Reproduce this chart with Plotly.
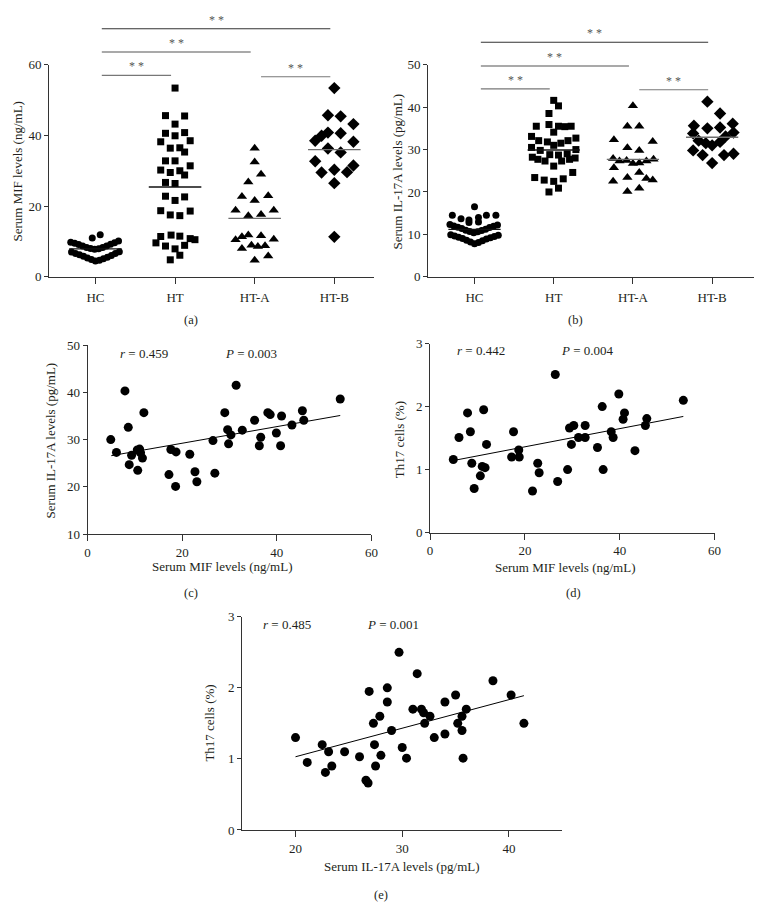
import plotly.graph_objects as go

W, H = 769, 912
FONT = "Liberation Serif"
INK = "#231f20"

groups = ["HC", "HT", "HT-A", "HT-B"]

# ---------------- panel (a): serum MIF (ng/mL) ----------------
mif_hc = [9.8, 9.5, 9.1, 8.7, 8.3, 8.0, 7.8, 7.9, 8.3, 8.7, 9.2, 9.6, 10.1,
          7.0, 6.6, 6.2, 5.8, 5.3, 4.9, 4.5, 4.7, 5.1, 5.5, 6.0, 6.6, 7.1,
          11.0, 11.9]
mif_hc_jit = [-0.31, -0.26, -0.21, -0.16, -0.11, -0.06, -0.01, 0.04, 0.09, 0.14, 0.19, 0.24, 0.29,
              -0.30, -0.25, -0.20, -0.15, -0.10, -0.05, 0.0, 0.05, 0.10, 0.15, 0.20, 0.25, 0.30,
              -0.04, 0.06]
mif_ht = [53.4, 45.6, 45.5, 43.2, 40.6, 39.9, 40.8, 38.2, 38.5, 36.4, 36.5, 35.3,
          32.8, 32.8, 31.4, 30.2, 29.5, 30.0, 28.8, 26.7, 26.4,
          22.8, 21.6, 22.6, 18.7, 17.5, 17.3, 18.6,
          11.4, 11.8, 11.5, 10.8, 10.5, 9.6, 8.7, 7.9, 8.9, 6.1, 4.8]
mif_ht_jit = [0.0, -0.12, 0.12, 0.0, -0.12, 0.0, 0.12, -0.18, 0.19, -0.06, 0.06, 0.12,
              -0.12, 0.0, 0.19, -0.18, -0.06, 0.06, 0.12, -0.12, 0.0,
              -0.12, 0.0, 0.12, -0.18, -0.06, 0.06, 0.19,
              -0.18, -0.05, 0.06, 0.19, 0.25, -0.24, -0.12, 0.0, 0.12, 0.06, -0.06]
mif_hta = [36.4, 32.5, 29.0, 26.8, 22.7, 21.6, 22.9, 18.8, 17.3, 17.6, 18.8,
           11.3, 11.8, 11.6, 10.5, 10.6, 8.0, 8.9, 8.6, 8.8, 4.7, 5.9]
mif_hta_jit = [0.0, 0.0, 0.08, -0.08, -0.16, 0.0, 0.17, -0.24, -0.08, 0.08, 0.24,
               -0.16, -0.08, 0.08, -0.24, 0.24, -0.16, -0.04, 0.04, 0.13, 0.0, 0.17]
mif_htb = [53.4, 45.7, 45.4, 43.2, 40.8, 39.9, 38.5, 40.6, 38.2, 36.3, 35.2,
           32.7, 29.5, 30.3, 29.6, 31.5, 26.5, 11.3]
mif_htb_jit = [0.0, -0.08, 0.08, 0.24, -0.08, -0.16, -0.24, 0.08, 0.24, -0.08, 0.08,
               -0.24, -0.16, 0.0, 0.16, 0.24, 0.0, 0.0]
mif_means = [7.9, 25.4, 16.5, 36.0]

# ---------------- panel (b): serum IL-17A (pg/mL) ----------------
il_hc = [16.5, 14.5, 13.7, 13.4, 14.0, 14.5, 14.5, 12.8, 12.9,
         12.3, 12.0, 11.7, 11.4, 11.0, 10.7, 10.4, 10.6, 10.9, 11.2, 11.6, 11.9, 12.2,
         9.9, 9.6, 9.3, 9.0, 8.6, 8.2, 7.8, 8.1, 8.5, 8.9, 9.2, 9.5, 9.8]
il_hc_jit = [0.0, -0.28, -0.17, -0.07, 0.05, 0.15, 0.27, -0.07, 0.05,
             -0.31, -0.26, -0.21, -0.16, -0.11, -0.06, -0.01, 0.04, 0.09, 0.14, 0.19, 0.24, 0.29,
             -0.30, -0.25, -0.20, -0.15, -0.10, -0.05, 0.0, 0.05, 0.10, 0.15, 0.20, 0.25, 0.30]
il_ht = [41.6, 40.3, 38.5, 35.5, 35.9, 35.5, 35.4, 35.5, 34.1,
         33.1, 32.1, 31.8, 31.0, 31.5, 32.1, 32.7,
         30.5, 29.8, 28.8, 28.7, 29.0, 30.0,
         28.2, 27.7, 27.3, 26.1, 27.3, 27.7, 28.0,
         23.4, 22.8, 22.5, 23.1, 24.6, 20.9, 20.0]
il_ht_jit = [0.0, 0.06, -0.06, -0.22, -0.06, 0.06, 0.14, 0.22, 0.0,
             -0.28, -0.19, -0.08, 0.0, 0.09, 0.18, 0.28,
             -0.28, -0.17, -0.05, 0.06, 0.17, 0.28,
             -0.27, -0.20, -0.11, 0.0, 0.10, 0.20, 0.27,
             -0.24, -0.12, 0.0, 0.12, 0.24, 0.06, -0.06]
il_hta = [40.3, 35.5, 35.5, 32.3, 30.4, 29.8, 31.9,
          27.9, 27.3, 27.4, 26.7, 26.8, 27.3, 27.7,
          25.7, 24.6, 22.5, 23.4, 23.2, 22.8, 20.1, 20.9]
il_hta_jit = [0.0, -0.07, 0.08, -0.24, -0.07, 0.08, 0.25,
              -0.25, -0.17, -0.08, 0.0, 0.08, 0.17, 0.26,
              -0.24, 0.08, -0.25, -0.07, 0.17, 0.25, -0.07, 0.08]
il_htb = [41.3, 38.5, 35.6, 35.0, 35.2, 36.1, 33.8, 34.0, 33.1,
          32.1, 31.5, 31.0, 31.8, 29.8, 28.7, 28.7, 29.0, 26.8]
il_htb_jit = [-0.06, 0.10, -0.23, -0.06, 0.10, 0.26, -0.24, 0.27, 0.17,
              -0.17, -0.08, 0.0, 0.10, -0.24, -0.12, 0.15, 0.27, 0.0]
il_means = [11.2, 29.9, 27.7, 32.9]

# ---------------- panel (c): MIF vs IL-17A ----------------
c_mif = [4.9, 6.1, 7.9, 8.6, 9.3, 8.8, 10.6, 10.5, 11.0, 11.2, 11.6, 11.9,
         17.6, 18.7, 17.2, 18.6, 21.6, 22.7, 23.1, 26.5, 26.9,
         29.0, 29.6, 30.3, 29.8, 31.4, 32.7, 35.3, 38.1, 38.6, 36.6, 36.3,
         39.9, 41.0, 40.8, 43.2, 45.4, 45.7, 53.4]
c_il17 = [30.0, 27.3, 40.3, 32.6, 26.7, 24.7, 23.5, 27.8, 28.0, 27.2, 26.1, 35.7,
          27.9, 27.4, 22.6, 20.1, 26.9, 23.2, 21.1, 29.8, 22.9,
          35.7, 32.1, 31.0, 29.1, 41.5, 32.0, 34.1, 35.7, 35.3, 30.5, 28.7,
          31.4, 35.0, 28.7, 33.1, 36.1, 34.1, 38.6]
c_fit_x = [5.0, 53.4]
c_fit_y = [26.6, 35.1]

# ---------------- panel (d): MIF vs Th17 ----------------
d_mif = [4.9, 6.1, 7.9, 8.5, 8.8, 9.3, 11.3, 11.9, 11.0, 11.6, 10.6,
         17.6, 17.2, 18.7, 18.8, 21.6, 22.7, 23.0, 26.4, 26.9,
         29.0, 29.4, 30.3, 29.8, 31.3, 32.7, 32.7, 35.3, 36.3, 36.5,
         38.2, 38.6, 39.8, 41.0, 40.7, 43.2, 45.4, 45.7, 53.4]
d_th17 = [1.16, 1.51, 1.90, 1.60, 1.10, 0.70, 1.95, 1.40, 1.05, 1.03, 0.90,
          1.60, 1.20, 1.31, 1.20, 0.66, 1.10, 0.95, 2.51, 0.81,
          1.00, 1.66, 1.70, 1.40, 1.51, 1.70, 1.51, 1.35, 2.00, 1.00,
          1.60, 1.51, 2.20, 1.90, 1.80, 1.30, 1.70, 1.81, 2.10]
d_fit_x = [5.0, 53.4]
d_fit_y = [1.145, 1.844]

# ---------------- panel (e): IL-17A vs Th17 ----------------
e_il17 = [20.0, 21.1, 22.5, 23.1, 22.8, 23.4, 24.6, 26.0, 26.6, 26.8,
          26.9, 27.3, 27.4, 27.5, 27.9, 28.0, 28.6, 28.6, 29.0, 29.7,
          30.0, 30.4, 31.0, 31.4, 31.8, 32.1, 32.0, 32.6, 33.0, 34.0,
          34.0, 35.0, 35.2, 35.6, 36.0, 35.6, 35.7, 38.5, 40.2, 41.4]
e_th17 = [1.30, 0.95, 1.20, 1.10, 0.81, 0.90, 1.10, 1.03, 0.70, 0.66,
          1.95, 1.50, 1.20, 0.90, 1.60, 1.05, 2.00, 1.80, 1.40, 2.50,
          1.16, 1.01, 1.70, 2.20, 1.70, 1.50, 1.65, 1.60, 1.30, 1.80,
          1.35, 1.90, 1.50, 1.60, 1.70, 1.40, 1.01, 2.10, 1.90, 1.50]
e_fit_x = [20.0, 41.4]
e_fit_y = [1.03, 1.89]

stats = [("0.459", "0.003"), ("0.442", "0.004"), ("0.485", "0.001")]

# significance comparisons (group i, group j, bar height in data units)
sig_a = [(0, 3, 70.2), (0, 2, 63.6), (0, 1, 57.0), (2, 3, 56.6)]
sig_b = [(0, 3, 55.3), (0, 2, 49.7), (0, 1, 44.3), (2, 3, 44.1)]


# ---------------- layout geometry (pixels) ----------------
def px(xp):
    return xp / W


def py(yp):
    return 1 - yp / H


panels = {
    "a": dict(x=(46.7, 376.0), y=(274.3, 58.7), xr=[-0.582, 3.5], yr=[0, 60]),
    "b": dict(x=(430.7, 761.0), y=(274.3, 58.7), xr=[-0.586, 3.53], yr=[0, 50]),
    "c": dict(x=(85.7, 373.3), y=(536.0, 343.7), xr=[0, 60], yr=[10, 50]),
    "d": dict(x=(432.7, 721.0), y=(534.3, 342.3), xr=[0, 60], yr=[0, 3]),
    "e": dict(x=(242.3, 566.7), y=(836.7, 620.0), xr=[15, 45], yr=[0, 3]),
}
axis_ids = {"a": ("x", "y"), "b": ("x2", "y2"), "c": ("x3", "y3"), "d": ("x4", "y4"), "e": ("x5", "y5")}


def paper_x(p, v):
    g = panels[p]
    d0, d1 = px(g["x"][0]), px(g["x"][1])
    return d0 + (v - g["xr"][0]) / (g["xr"][1] - g["xr"][0]) * (d1 - d0)


def paper_y(p, v):
    g = panels[p]
    d0, d1 = py(g["y"][0]), py(g["y"][1])
    return d0 + (v - g["yr"][0]) / (g["yr"][1] - g["yr"][0]) * (d1 - d0)


fig = go.Figure()

symbols = ["circle", "square", "triangle-up", "diamond"]
sizes = [7, 7, 9, 9.5]
mean_colors = ["#111111", "#111111", "#6d6d6d", "#6d6d6d"]


def dot_panel(p, vals, jits, means):
    xa, ya = axis_ids[p]
    for i, (v, j) in enumerate(zip(vals, jits)):
        fig.add_trace(go.Scatter(
            x=[i + o for o in j], y=v, mode="markers", xaxis=xa, yaxis=ya,
            marker=dict(symbol=symbols[i], size=sizes[i], color="black", line=dict(width=0)),
            cliponaxis=False, showlegend=False, hoverinfo="skip"))
    for i, m in enumerate(means):
        fig.add_trace(go.Scatter(
            x=[i - 0.33, i + 0.33], y=[m, m], mode="lines", xaxis=xa, yaxis=ya,
            line=dict(color=mean_colors[i], width=1.3), showlegend=False, hoverinfo="skip"))


dot_panel("a", [mif_hc, mif_ht, mif_hta, mif_htb],
          [mif_hc_jit, mif_ht_jit, mif_hta_jit, mif_htb_jit], mif_means)
dot_panel("b", [il_hc, il_ht, il_hta, il_htb],
          [il_hc_jit, il_ht_jit, il_hta_jit, il_htb_jit], il_means)


def scatter_panel(p, xs, ys, fx, fy):
    xa, ya = axis_ids[p]
    fig.add_trace(go.Scatter(x=xs, y=ys, mode="markers", xaxis=xa, yaxis=ya,
                             marker=dict(symbol="circle", size=9, color="black", line=dict(width=0)),
                             cliponaxis=False, showlegend=False, hoverinfo="skip"))
    fig.add_trace(go.Scatter(x=fx, y=fy, mode="lines", xaxis=xa, yaxis=ya,
                             line=dict(color="black", width=1), showlegend=False, hoverinfo="skip"))


scatter_panel("c", c_mif, c_il17, c_fit_x, c_fit_y)
scatter_panel("d", d_mif, d_th17, d_fit_x, d_fit_y)
scatter_panel("e", e_il17, e_th17, e_fit_x, e_fit_y)

tickfont = dict(family=FONT, size=13, color=INK)
axis_common = dict(showline=True, linecolor="#333333", linewidth=1, ticks="outside",
                   tickcolor="#333333", tickwidth=1, showgrid=False, zeroline=False,
                   tickfont=tickfont, fixedrange=True)

tick_sets = {
    "a": dict(xt=[0, 1, 2, 3], xtt=groups, yt=[0, 20, 40, 60]),
    "b": dict(xt=[0, 1, 2, 3], xtt=groups, yt=[0, 10, 20, 30, 40, 50]),
    "c": dict(xt=[0, 20, 40, 60], xtt=None, yt=[10, 20, 30, 40, 50]),
    "d": dict(xt=[0, 20, 40, 60], xtt=None, yt=[0, 1, 2, 3]),
    "e": dict(xt=[20, 30, 40], xtt=None, yt=[0, 1, 2, 3]),
}

layout_axes = {}
for p, g in panels.items():
    xa, ya = axis_ids[p]
    xkey = "xaxis" + xa[1:]
    ykey = "yaxis" + ya[1:]
    ts = tick_sets[p]
    xd = dict(axis_common, domain=[px(g["x"][0]), px(g["x"][1])], range=g["xr"],
              anchor=ya, tickvals=ts["xt"], ticklen=6)
    if ts["xtt"] is not None:
        xd["ticktext"] = ts["xtt"]
        xd["ticklabelstandoff"] = 3
    yd = dict(axis_common, domain=[py(g["y"][0]), py(g["y"][1])], range=g["yr"],
              anchor=xa, tickvals=ts["yt"], ticklen=4)
    layout_axes[xkey] = xd
    layout_axes[ykey] = yd

annotations = []
shapes = []


def text(xp, yp, s, size=13, angle=0, xanchor="center", color=INK):
    annotations.append(dict(x=px(xp), y=py(yp), xref="paper", yref="paper", text=s,
                            showarrow=False, textangle=angle, xanchor=xanchor, yanchor="middle",
                            font=dict(family=FONT, size=size, color=color)))


# axis titles
text(15, 167.5, "Serum MIF levels (ng/mL)", angle=-90)
text(400, 167.5, "Serum IL-17A levels (pg/mL)", angle=-90)
text(48.3, 441, "Serum IL-17A levels (pg/mL)", angle=-90)
text(222, 569, "Serum MIF levels (ng/mL)")
text(401.7, 440, "Th17 cells (%)", angle=-90)
text(569, 570, "Serum MIF levels (ng/mL)")
text(208.3, 728, "Th17 cells (%)", angle=-90)
text(404, 874, "Serum IL-17A levels (pg/mL)")

# panel labels
text(190, 318, "(a)", size=12.5)
text(580, 318, "(b)", size=12.5)
text(190, 596, "(c)", size=12.5)
text(578, 596, "(d)", size=12.5)
text(383, 903, "(e)", size=12.5)

# correlation statistics
stat_pos = [((116.7, 222.7), 352.7), ((457.7, 563.7), 349), ((261.7, 366.7), 627.7)]
for (r, pv), ((xr_, xp_), yy) in zip(stats, stat_pos):
    text(xr_, yy, "<i>r</i> = " + r, xanchor="left")
    text(xp_, yy, "<i>P</i> = " + pv, xanchor="left")

# significance bars
bar_colors = ["#333333", "#555555", "#777777", "#777777"]
for p, sig in (("a", sig_a), ("b", sig_b)):
    for k, (i, j, h) in enumerate(sig):
        x0 = paper_x(p, i + 0.08)
        x1 = paper_x(p, j - 0.05)
        y0 = paper_y(p, h)
        shapes.append(dict(type="line", xref="paper", yref="paper", x0=x0, x1=x1, y0=y0, y1=y0,
                           line=dict(color=bar_colors[k], width=1.1)))
        annotations.append(dict(x=(x0 + x1) / 2, y=y0, xref="paper", yref="paper", text="* *",
                                showarrow=False, xanchor="center", yanchor="bottom", yshift=0,
                                font=dict(family=FONT, size=12, color="#555555")))

fig.update_layout(
    width=W, height=H, margin=dict(l=0, r=0, t=0, b=0),
    paper_bgcolor="white", plot_bgcolor="white",
    showlegend=False, annotations=annotations, shapes=shapes,
    **layout_axes,
)

fig.write_html(
    "out.html",
    config={"displayModeBar": False},
    post_script="document.body.style.margin='0';document.body.style.overflow='hidden';",
)
